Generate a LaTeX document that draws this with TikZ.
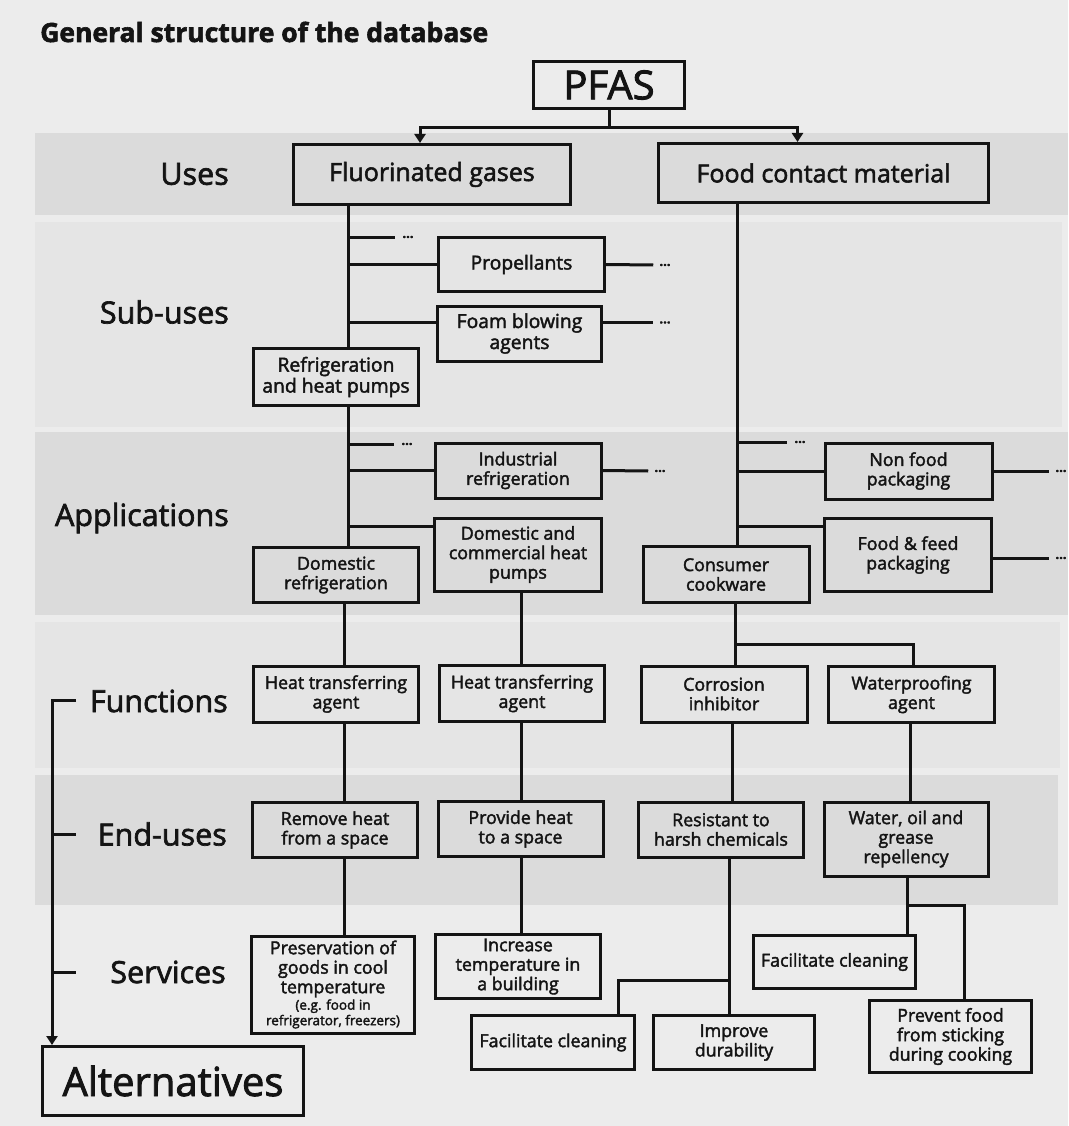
\documentclass[tikz,border=0pt]{standalone}
\usepackage{fontspec}
\setmainfont{Open Sans}[FakeBold=2.2]
\usetikzlibrary{arrows.meta,calc}
\definecolor{paper}{HTML}{ECECEC}
\definecolor{bandD}{HTML}{DBDBDB}
\definecolor{bandL}{HTML}{E5E5E5}
\definecolor{ink}{HTML}{141414}
\begin{document}
\begin{tikzpicture}[x=1pt,y=-1pt,
  bx/.style={draw=ink, line width=3pt, inner sep=0pt, align=center, text=ink,
             font=\fontsize{17.8}{19.5}\selectfont},
  sub/.style={font=\fontsize{19.3}{21}\selectfont},
  big/.style={font=\fontsize{25}{27}\selectfont},
  ln/.style={draw=ink, line width=3pt},
  arr/.style={ln, -{Triangle[length=9pt,width=11pt]}},
  lbl/.style={anchor=east, text=ink, inner sep=0pt, font=\fontsize{30.5}{32}\selectfont},
  dots/.style={text=ink, inner sep=0pt, font=\bfseries\fontsize{13}{13}\selectfont}]
\fill[paper] (0,0) rectangle (1068,1126);
\useasboundingbox (0,0) rectangle (1068,1126);
% bands
\fill[bandD] (35,133) rectangle (1068,215);
\fill[bandL] (35,222) rectangle (1062,427);
\fill[bandD] (35,432) rectangle (1068,615);
\fill[bandL] (35,622) rectangle (1060,768);
\fill[bandD] (35,775) rectangle (1058,905);
% title
\node[anchor=base west, inner sep=0pt, text=ink, font=\bfseries\fontsize{26.5}{28}\selectfont] (title) at (40,42) {General structure of the database};
% row labels
\node[lbl] (lU) at (229,174) {Uses};
\node[lbl] (lS) at (229,312) {Sub-uses};
\node[lbl] (lA) at (229,518) {Applications};
\node[lbl] (lF) at (228,701) {Functions};
\node[lbl] (lE) at (227,834) {End-uses};
\node[lbl] (lSv) at (226,972) {Services};
% boxes
\node[bx, font=\fontsize{40}{42}\selectfont, minimum width=151, minimum height=47] (pfas) at (609,85) {PFAS};
\node[bx, big, minimum width=277, minimum height=60] (fg) at (432,174.5) {Fluorinated gases};
\node[bx, big, minimum width=330, minimum height=59] (fcm) at (823.5,173) {Food contact material};
\node[bx, sub, minimum width=166, minimum height=54] (prop) at (521.5,264.5) {Propellants};
\node[bx, sub, minimum width=164, minimum height=55] (foam) at (519.5,333.5) {Foam blowing\\agents};
\node[bx, sub, minimum width=165, minimum height=57] (rhp) at (336,377) {Refrigeration\\and heat pumps};
\node[bx, minimum width=166, minimum height=55] (ind) at (518,470.5) {Industrial\\refrigeration};
\node[bx, minimum width=167, minimum height=73] (dchp) at (518,554.5) {Domestic and\\commercial heat\\pumps};
\node[bx, minimum width=165, minimum height=55] (domref) at (336,575) {Domestic\\refrigeration};
\node[bx, minimum width=167, minimum height=56] (nfp) at (908.5,471) {Non food\\packaging};
\node[bx, minimum width=167, minimum height=73] (ffp) at (908,555) {Food \& feed\\packaging};
\node[bx, minimum width=166, minimum height=56] (cc) at (726,574.5) {Consumer\\cookware};
\node[bx, minimum width=165, minimum height=56] (hta1) at (336,694) {Heat transferring\\agent};
\node[bx, minimum width=165, minimum height=56] (hta2) at (522,693.5) {Heat transferring\\agent};
\node[bx, minimum width=166, minimum height=56] (ci) at (724,694) {Corrosion\\inhibitor};
\node[bx, minimum width=166, minimum height=56] (wa) at (911.5,694.5) {Waterproofing\\agent};
\node[bx, minimum width=165, minimum height=55] (rh) at (335,830) {Remove heat\\from a space};
\node[bx, minimum width=165, minimum height=55] (ph) at (520.5,829) {Provide heat\\to a space};
\node[bx, minimum width=165, minimum height=55] (rhc) at (721,829.5) {Resistant to\\harsh chemicals};
\node[bx, minimum width=164, minimum height=74] (wog) at (906,839) {Water, oil and\\grease\\repellency};
\node[bx, minimum width=163, minimum height=97] (pres) at (333,984.5) {Preservation of\\goods in cool\\temperature\\[-3pt]{\fontsize{13.5}{15}\selectfont (e.g. food in}\\[-4pt]{\fontsize{13.5}{15}\selectfont refrigerator, freezers)}};
\node[bx, minimum width=165, minimum height=64] (itb) at (518,966.5) {Increase\\temperature in\\a building};
\node[bx, minimum width=163, minimum height=54] (fcl) at (553,1042.5) {Facilitate cleaning};
\node[bx, minimum width=161, minimum height=54] (id) at (734,1042.5) {Improve\\durability};
\node[bx, minimum width=162, minimum height=53] (fcr) at (834.5,962) {Facilitate cleaning};
\node[bx, minimum width=162, minimum height=72] (pfs) at (950.5,1036.5) {Prevent food\\from sticking\\during cooking};
\node[bx, font=\fontsize{40}{42}\selectfont, minimum width=261, minimum height=69] (alt) at (173,1081) {Alternatives};
% dots
\node[dots] (d1) at (408,237) {...};
\node[dots] (d2) at (665,265) {...};
\node[dots] (d3) at (665,322.5) {...};
\node[dots] (d4) at (407,444) {...};
\node[dots] (d5) at (660,471) {...};
\node[dots] (d6) at (800,442) {...};
\node[dots] (d7) at (1061,471) {...};
\node[dots] (d8) at (1061,558) {...};
% column coordinates
\coordinate (tL) at (348,0);
\coordinate (tR) at (737,0);
\coordinate (cA) at (344,0);
\coordinate (cB) at (521,0);
\coordinate (cC) at (735,0);
\coordinate (cE) at (732,0);
\coordinate (cF) at (729,0);
\coordinate (cG) at (910,0);
\coordinate (cH) at (907,0);
\coordinate (bxl) at (52,0);
% PFAS
\draw[arr] (pfas.south) -- ++(0,18) -| ([xshift=-12pt]fg.north);
\draw[arr] (pfas.south) -- ++(0,18) -| ([xshift=-26pt]fcm.north);
% fluorinated gases trunk
\draw[ln] (tL |- fg.south) -- (tL |- rhp.north);
\draw[ln] (tL |- d1) -- ([xshift=-7pt]d1.west);
\draw[ln] (tL |- prop.west) -- (prop.west);
\draw[ln] (prop.east) -- ([xshift=-6pt]d2.west);
\coordinate (fbL) at ([yshift=11pt]foam.west);
\coordinate (fbR) at ([yshift=11pt]foam.east);
\draw[ln] (tL |- fbL) -- (fbL);
\draw[ln] (fbR) -- ([xshift=-6pt]d3.west);
% applications left
\draw[ln] (tL |- rhp.south) -- (tL |- domref.north);
\draw[ln] (tL |- d4) -- ([xshift=-7pt]d4.west);
\draw[ln] (tL |- ind.west) -- (ind.west);
\draw[ln] (ind.east) -- ([xshift=-6pt]d5.west);
\coordinate (dc) at ([yshift=28pt]dchp.west);
\draw[ln] (tL |- dc) -- (dc);
% food contact trunk
\draw[ln] (tR |- fcm.south) -- (tR |- cc.north);
\draw[ln] (tR |- d6) -- ([xshift=-7pt]d6.west);
\draw[ln] (tR |- nfp.west) -- (nfp.west);
\draw[ln] (nfp.east) -- ([xshift=-6pt]d7.west);
\coordinate (fc) at ([yshift=29pt]ffp.west);
\draw[ln] (tR |- fc) -- (fc);
\draw[ln] ([yshift=-3pt]ffp.east) -- ([xshift=-6pt]d8.west);
% lower left columns
\draw[ln] (cA |- domref.south) -- (cA |- hta1.north);
\draw[ln] (cA |- hta1.south) -- (cA |- rh.north);
\draw[ln] (cA |- rh.south) -- (cA |- pres.north);
\draw[ln] (cB |- dchp.south) -- (cB |- hta2.north);
\draw[ln] (cB |- hta2.south) -- (cB |- ph.north);
\draw[ln] (cB |- ph.south) -- (cB |- itb.north);
% cookware
\draw[ln] (cC |- cc.south) -- (cC |- ci.north);
\coordinate (j1) at (735,644);
\draw[ln] (j1) -| ([xshift=2pt]wa.north);
\draw[ln] (cE |- ci.south) -- (cE |- rhc.north);
\draw[ln] (cF |- rhc.south) -- (cF |- id.north);
\coordinate (j2) at (729,980);
\draw[ln] (j2) -| ([xshift=65pt]fcl.north);
\draw[ln] (cG |- wa.south) -- (cG |- wog.north);
\draw[ln] (cH |- wog.south) -- (cH |- fcr.north);
\coordinate (j3) at (907,905);
\draw[ln] (j3) -| ([xshift=14pt]pfs.north);
% bracket to alternatives
\coordinate (bt) at (76,700);
\draw[arr] (bt) -| (bxl |- alt.north);
\draw[ln] (bxl |- lE.east) -- ++(24,0);
\draw[ln] (bxl |- lSv.east) -- ++(24,0);
\end{tikzpicture}
\end{document}
